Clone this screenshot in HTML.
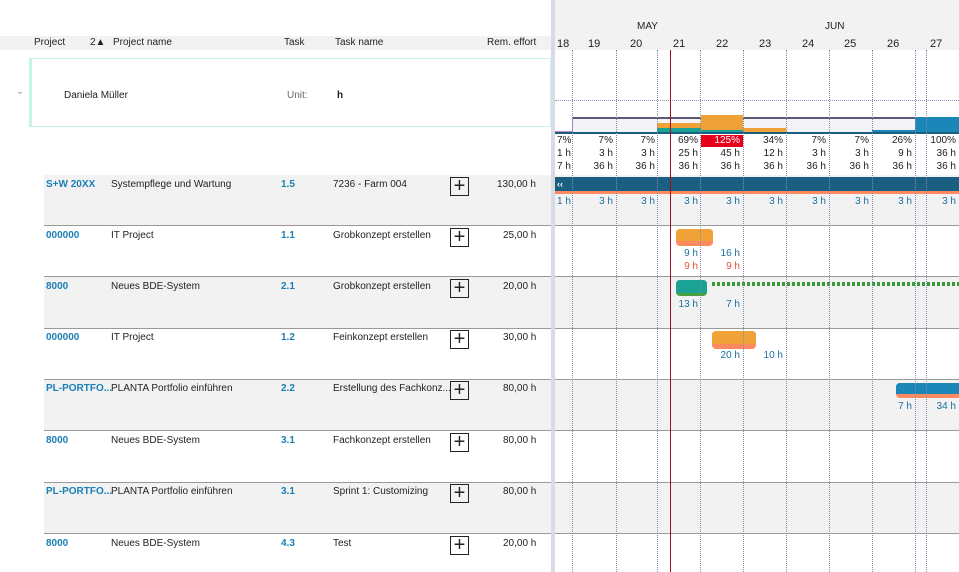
<!DOCTYPE html>
<html><head><meta charset="utf-8"><style>
body{margin:0;width:959px;height:572px;overflow:hidden;background:#fff;font-family:"Liberation Sans",Arial,sans-serif;font-size:10px;color:#222;position:relative}
div{position:absolute;box-sizing:border-box}
.t{white-space:nowrap;line-height:12px}
.rw .t{top:2px}
.b{color:#1a7fb5;font-weight:bold}
.pl{width:19px;height:19px;border:1px solid #222;font-size:20px;line-height:16px;text-align:center;font-weight:normal}
.r{text-align:right;width:40px}
.vl{top:50px;height:522px;border-left:1px dotted #7f8cb0;width:0}
</style></head><body>
<div style="left:0;top:36px;width:551px;height:14px;background:#f2f2f2"></div>
<div class="t" style="left:34px;top:37px">Project</div>
<div class="t" style="left:90px;top:37px">2▲</div>
<div class="t" style="left:113px;top:37px">Project name</div>
<div class="t" style="left:284px;top:37px">Task</div>
<div class="t" style="left:335px;top:37px">Task name</div>
<div class="t" style="left:487px;top:37px">Rem. effort</div>
<div style="left:29px;top:58px;width:522px;height:69px;border:1px solid #c6f5e6;border-left:3px solid #c6f5e6"></div>
<div class="t" style="left:16px;top:86px;color:#999">⌄</div>
<div class="t" style="left:64px;top:90px">Daniela Müller</div>
<div class="t" style="left:287px;top:90px;color:#666">Unit:</div>
<div class="t" style="left:337px;top:90px;font-weight:bold">h</div>
<div style="left:555px;top:0;width:404px;height:50px;background:#f2f2f2"></div>
<div class="t" style="left:637px;top:21px">MAY</div>
<div class="t" style="left:825px;top:21px">JUN</div>
<div style="left:551px;top:0;width:4px;height:572px;background:#d8dbe3"></div>
<div style="left:44px;top:175px;width:507px;height:51px;background:#f2f2f2"></div>
<div style="left:555px;top:175px;width:404px;height:51px;background:#f2f2f2"></div>
<div style="left:44px;top:277px;width:507px;height:51px;background:#f2f2f2"></div>
<div style="left:555px;top:277px;width:404px;height:51px;background:#f2f2f2"></div>
<div style="left:44px;top:379px;width:507px;height:52px;background:#f2f2f2"></div>
<div style="left:555px;top:379px;width:404px;height:52px;background:#f2f2f2"></div>
<div style="left:44px;top:482px;width:507px;height:51px;background:#f2f2f2"></div>
<div style="left:555px;top:482px;width:404px;height:51px;background:#f2f2f2"></div>
<div style="left:44px;top:225px;width:507px;height:1px;background:#999"></div><div style="left:555px;top:225px;width:404px;height:1px;background:#999"></div>
<div style="left:44px;top:276px;width:507px;height:1px;background:#999"></div><div style="left:555px;top:276px;width:404px;height:1px;background:#999"></div>
<div style="left:44px;top:328px;width:507px;height:1px;background:#999"></div><div style="left:555px;top:328px;width:404px;height:1px;background:#999"></div>
<div style="left:44px;top:379px;width:507px;height:1px;background:#999"></div><div style="left:555px;top:379px;width:404px;height:1px;background:#999"></div>
<div style="left:44px;top:430px;width:507px;height:1px;background:#999"></div><div style="left:555px;top:430px;width:404px;height:1px;background:#999"></div>
<div style="left:44px;top:482px;width:507px;height:1px;background:#999"></div><div style="left:555px;top:482px;width:404px;height:1px;background:#999"></div>
<div style="left:44px;top:533px;width:507px;height:1px;background:#999"></div><div style="left:555px;top:533px;width:404px;height:1px;background:#999"></div>
<div style="left:555px;top:100px;width:404px;height:0;border-top:1px dotted #8a93b5"></div>
<div style="left:572px;top:117px;width:387px;height:16px;background:#f4f4f6;border-top:2px solid #5a5a78;border-left:1px solid #d080c0"></div>
<div style="left:555px;top:131px;width:17px;height:1px;background:#d080c0"></div>
<div style="left:657px;top:123px;width:44px;height:5px;background:#f0a238"></div>
<div style="left:657px;top:128px;width:44px;height:5px;background:#1aa394"></div>
<div style="left:701px;top:115px;width:42px;height:15px;background:#f0a238"></div>
<div style="left:701px;top:130px;width:42px;height:3px;background:#1aa394"></div>
<div style="left:743px;top:128px;width:43px;height:5px;background:#f0a238"></div>
<div style="left:872px;top:130px;width:43px;height:3px;background:#1a87b8"></div>
<div style="left:915px;top:117px;width:44px;height:16px;background:#1a87b8"></div>
<div style="left:555px;top:132px;width:404px;height:2px;background:#1a5e82"></div>
<div style="left:701px;top:135px;width:42px;height:12px;background:#e8001a"></div>
<div style="left:555px;top:177px;width:404px;height:14px;background:#1a5e82"></div>
<div style="left:555px;top:191px;width:404px;height:3px;background:#ff8a60"></div>
<div class="t" style="left:557px;top:178px;color:#fff;font-weight:bold;font-size:9px">‹‹</div>
<div style="left:676px;top:229px;width:37px;height:17px;background:#ff8a60;border-radius:4px"></div>
<div style="left:676px;top:229px;width:37px;height:12px;background:#f0a238;border-radius:4px 4px 0 0"></div>
<div style="left:676px;top:280px;width:31px;height:16px;background:#4aa040;border-radius:4px"></div>
<div style="left:676px;top:280px;width:31px;height:13px;background:#1aa394;border-radius:4px 4px 0 0"></div>
<div style="left:712px;top:282px;width:247px;height:4px;background:repeating-linear-gradient(90deg,#3a9a3a 0 3px,transparent 3px 5px)"></div>
<div style="left:712px;top:331px;width:44px;height:18px;background:#ff8a60;border-radius:4px"></div>
<div style="left:712px;top:331px;width:44px;height:13px;background:#f0a238;border-radius:4px 4px 0 0"></div>
<div style="left:896px;top:383px;width:63px;height:15px;background:#ff8a60;border-radius:4px 0 0 4px"></div>
<div style="left:896px;top:383px;width:63px;height:11px;background:#1a87b8;border-radius:4px 0 0 0"></div>
<div class="vl" style="left:572px"></div><div class="vl" style="left:616px"></div><div class="vl" style="left:657px"></div>
<div class="vl" style="left:700px"></div><div class="vl" style="left:743px"></div><div class="vl" style="left:786px"></div>
<div class="vl" style="left:829px"></div><div class="vl" style="left:872px"></div><div class="vl" style="left:915px"></div><div class="vl" style="left:926px"></div>
<div style="left:670px;top:50px;width:1px;height:522px;background:#a01010"></div>
<div class="t" style="left:557px;top:38px;font-size:11px">18</div>
<div class="t" style="left:588px;top:38px;font-size:11px">19</div>
<div class="t" style="left:630px;top:38px;font-size:11px">20</div>
<div class="t" style="left:673px;top:38px;font-size:11px">21</div>
<div class="t" style="left:716px;top:38px;font-size:11px">22</div>
<div class="t" style="left:759px;top:38px;font-size:11px">23</div>
<div class="t" style="left:802px;top:38px;font-size:11px">24</div>
<div class="t" style="left:844px;top:38px;font-size:11px">25</div>
<div class="t" style="left:887px;top:38px;font-size:11px">26</div>
<div class="t" style="left:930px;top:38px;font-size:11px">27</div>
<div class="t" style="left:557px;top:135px">7%</div><div class="t" style="left:557px;top:148px">1 h</div><div class="t" style="left:557px;top:161px">7 h</div>
<div class="t r" style="left:573px;top:135px">7%</div><div class="t r" style="left:573px;top:148px">3 h</div><div class="t r" style="left:573px;top:161px">36 h</div>
<div class="t r" style="left:615px;top:135px">7%</div><div class="t r" style="left:615px;top:148px">3 h</div><div class="t r" style="left:615px;top:161px">36 h</div>
<div class="t r" style="left:658px;top:135px">69%</div><div class="t r" style="left:658px;top:148px">25 h</div><div class="t r" style="left:658px;top:161px">36 h</div>
<div class="t r" style="left:700px;top:135px;color:#fff">125%</div><div class="t r" style="left:700px;top:148px">45 h</div><div class="t r" style="left:700px;top:161px">36 h</div>
<div class="t r" style="left:743px;top:135px">34%</div><div class="t r" style="left:743px;top:148px">12 h</div><div class="t r" style="left:743px;top:161px">36 h</div>
<div class="t r" style="left:786px;top:135px">7%</div><div class="t r" style="left:786px;top:148px">3 h</div><div class="t r" style="left:786px;top:161px">36 h</div>
<div class="t r" style="left:829px;top:135px">7%</div><div class="t r" style="left:829px;top:148px">3 h</div><div class="t r" style="left:829px;top:161px">36 h</div>
<div class="t r" style="left:872px;top:135px">26%</div><div class="t r" style="left:872px;top:148px">9 h</div><div class="t r" style="left:872px;top:161px">36 h</div>
<div class="t r" style="left:916px;top:135px">100%</div><div class="t r" style="left:916px;top:148px">36 h</div><div class="t r" style="left:916px;top:161px">36 h</div>
<div style="left:0;top:196px;width:959px;height:12px;color:#1a6fa0">
<div class="t" style="left:557px;top:0">1 h</div>
<div class="t r" style="left:573px;top:0">3 h</div><div class="t r" style="left:615px;top:0">3 h</div><div class="t r" style="left:658px;top:0">3 h</div>
<div class="t r" style="left:700px;top:0">3 h</div><div class="t r" style="left:743px;top:0">3 h</div><div class="t r" style="left:786px;top:0">3 h</div>
<div class="t r" style="left:829px;top:0">3 h</div><div class="t r" style="left:872px;top:0">3 h</div><div class="t r" style="left:916px;top:0">3 h</div></div>
<div class="t r" style="left:658px;top:248px;color:#1a6fa0">9 h</div><div class="t r" style="left:700px;top:248px;color:#1a6fa0">16 h</div>
<div class="t r" style="left:658px;top:261px;color:#e8503a">9 h</div><div class="t r" style="left:700px;top:261px;color:#e8503a">9 h</div>
<div class="t r" style="left:658px;top:299px;color:#1a6fa0">13 h</div><div class="t r" style="left:700px;top:299px;color:#1a6fa0">7 h</div>
<div class="t r" style="left:700px;top:350px;color:#1a6fa0">20 h</div><div class="t r" style="left:743px;top:350px;color:#1a6fa0">10 h</div>
<div class="t r" style="left:872px;top:401px;color:#1a6fa0">7 h</div><div class="t r" style="left:916px;top:401px;color:#1a6fa0">34 h</div>
<div class="rw" style="left:0;top:177px;width:551px">
<div class="t b" style="left:46px">S+W 20XX</div><div class="t" style="left:111px">Systempflege und Wartung</div><div class="t b" style="left:281px">1.5</div><div class="t" style="left:333px">7236 - Farm 004</div><div class="pl" style="left:450px;top:0">+</div><div class="t" style="left:497px">130,00 h</div></div>
<div class="rw" style="left:0;top:228px;width:551px">
<div class="t b" style="left:46px">000000</div><div class="t" style="left:111px">IT Project</div><div class="t b" style="left:281px">1.1</div><div class="t" style="left:333px">Grobkonzept erstellen</div><div class="pl" style="left:450px;top:0">+</div><div class="t" style="left:503px">25,00 h</div></div>
<div class="rw" style="left:0;top:279px;width:551px">
<div class="t b" style="left:46px">8000</div><div class="t" style="left:111px">Neues BDE-System</div><div class="t b" style="left:281px">2.1</div><div class="t" style="left:333px">Grobkonzept erstellen</div><div class="pl" style="left:450px;top:0">+</div><div class="t" style="left:503px">20,00 h</div></div>
<div class="rw" style="left:0;top:330px;width:551px">
<div class="t b" style="left:46px">000000</div><div class="t" style="left:111px">IT Project</div><div class="t b" style="left:281px">1.2</div><div class="t" style="left:333px">Feinkonzept erstellen</div><div class="pl" style="left:450px;top:0">+</div><div class="t" style="left:503px">30,00 h</div></div>
<div class="rw" style="left:0;top:381px;width:551px">
<div class="t b" style="left:46px">PL-PORTFO...</div><div class="t" style="left:111px">PLANTA Portfolio einführen</div><div class="t b" style="left:281px">2.2</div><div class="t" style="left:333px">Erstellung des Fachkonz...</div><div class="pl" style="left:450px;top:0">+</div><div class="t" style="left:503px">80,00 h</div></div>
<div class="rw" style="left:0;top:433px;width:551px">
<div class="t b" style="left:46px">8000</div><div class="t" style="left:111px">Neues BDE-System</div><div class="t b" style="left:281px">3.1</div><div class="t" style="left:333px">Fachkonzept erstellen</div><div class="pl" style="left:450px;top:0">+</div><div class="t" style="left:503px">80,00 h</div></div>
<div class="rw" style="left:0;top:484px;width:551px">
<div class="t b" style="left:46px">PL-PORTFO...</div><div class="t" style="left:111px">PLANTA Portfolio einführen</div><div class="t b" style="left:281px">3.1</div><div class="t" style="left:333px">Sprint 1: Customizing</div><div class="pl" style="left:450px;top:0">+</div><div class="t" style="left:503px">80,00 h</div></div>
<div class="rw" style="left:0;top:536px;width:551px">
<div class="t b" style="left:46px">8000</div><div class="t" style="left:111px">Neues BDE-System</div><div class="t b" style="left:281px">4.3</div><div class="t" style="left:333px">Test</div><div class="pl" style="left:450px;top:0">+</div><div class="t" style="left:503px">20,00 h</div></div>
</body></html>
